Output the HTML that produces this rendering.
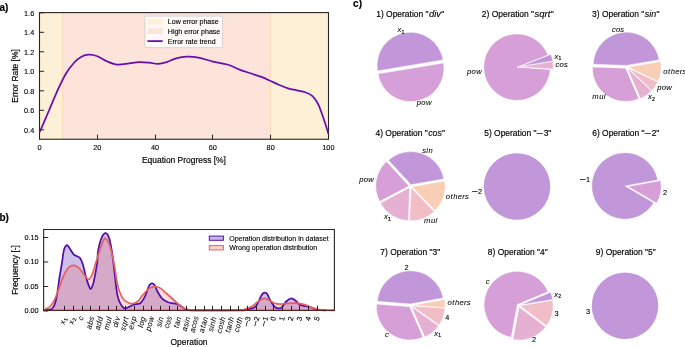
<!DOCTYPE html>
<html><head><meta charset="utf-8"><style>
html,body{margin:0;padding:0;background:#fff;width:685px;height:347px;overflow:hidden;font-family:"Liberation Sans", sans-serif;}
svg{display:block;will-change:transform;}
text{font-family:"Liberation Sans", sans-serif;stroke:#000;stroke-width:0.17px;}
text.sm{stroke-width:0.12px;}
text.it{stroke-width:0.06px;}
text.it2{stroke-width:0.12px;}
</style></head><body>
<svg width="685" height="347" viewBox="0 0 685 347"><rect x="39.5" y="12.6" width="23.20" height="126.65" fill="#fef0d6"/>
<rect x="62.70" y="12.6" width="207.94" height="126.65" fill="#fce4db"/>
<rect x="270.64" y="12.6" width="57.86" height="126.65" fill="#fef0d6"/>
<line x1="62.70" y1="12.6" x2="62.70" y2="139.25" stroke="#f9d9b0" stroke-width="0.9"/>
<line x1="270.64" y1="12.6" x2="270.64" y2="139.25" stroke="#f9d9b0" stroke-width="0.9"/>
<rect x="39.5" y="12.6" width="289.00" height="126.65" fill="none" stroke="#262626" stroke-width="1.1"/>
<path d="M39.60,132.25 C41.04,128.92 45.38,119.00 48.26,112.26 C51.15,105.52 54.04,98.12 56.93,91.78 C59.82,85.45 62.70,79.11 65.59,74.24 C68.48,69.36 71.61,65.46 74.26,62.53 C76.90,59.61 79.07,57.99 81.48,56.69 C83.88,55.39 86.05,54.82 88.70,54.74 C91.34,54.65 94.23,55.06 97.36,56.20 C100.49,57.34 104.10,60.15 107.47,61.56 C110.84,62.97 113.97,64.39 117.58,64.68 C121.19,64.97 125.52,63.74 129.13,63.31 C132.74,62.89 135.87,62.24 139.24,62.14 C142.61,62.05 146.22,62.45 149.34,62.73 C152.47,63.01 155.12,63.92 158.01,63.80 C160.90,63.69 163.78,62.91 166.67,62.05 C169.56,61.19 171.97,59.53 175.34,58.64 C178.71,57.74 183.04,56.85 186.89,56.69 C190.74,56.52 194.11,56.85 198.44,57.66 C202.77,58.47 208.07,60.42 212.88,61.56 C217.69,62.70 222.99,63.19 227.32,64.48 C231.65,65.78 235.02,67.90 238.87,69.36 C242.72,70.82 246.57,71.96 250.42,73.26 C254.27,74.56 258.61,75.86 261.98,77.16 C265.35,78.46 267.75,79.76 270.64,81.06 C273.53,82.36 276.42,83.74 279.30,84.96 C282.19,86.18 285.08,87.48 287.97,88.37 C290.86,89.27 293.74,89.67 296.63,90.32 C299.52,90.97 302.65,91.30 305.30,92.27 C307.94,93.25 310.35,94.14 312.52,96.17 C314.68,98.20 316.37,100.48 318.29,104.46 C320.22,108.44 322.38,115.19 324.07,120.06 C325.75,124.94 327.68,131.44 328.40,133.71" fill="none" stroke="#6a0dad" stroke-width="1.75" stroke-linejoin="round"/>
<line x1="39.5" y1="129.81" x2="44.1" y2="129.81" stroke="#222" stroke-width="1"/>
<text x="24.05" y="132.73" font-size="7.3" fill="#000" class="sm">0.4</text>
<line x1="39.5" y1="110.31" x2="44.1" y2="110.31" stroke="#222" stroke-width="1"/>
<text x="24.05" y="113.23" font-size="7.3" fill="#000" class="sm">0.6</text>
<line x1="39.5" y1="90.81" x2="44.1" y2="90.81" stroke="#222" stroke-width="1"/>
<text x="24.05" y="93.73" font-size="7.3" fill="#000" class="sm">0.8</text>
<line x1="39.5" y1="71.31" x2="44.1" y2="71.31" stroke="#222" stroke-width="1"/>
<text x="24.05" y="74.23" font-size="7.3" fill="#000" class="sm">1.0</text>
<line x1="39.5" y1="51.81" x2="44.1" y2="51.81" stroke="#222" stroke-width="1"/>
<text x="24.05" y="54.73" font-size="7.3" fill="#000" class="sm">1.2</text>
<line x1="39.5" y1="32.31" x2="44.1" y2="32.31" stroke="#222" stroke-width="1"/>
<text x="24.05" y="35.23" font-size="7.3" fill="#000" class="sm">1.4</text>
<line x1="39.5" y1="12.81" x2="44.1" y2="12.81" stroke="#222" stroke-width="1"/>
<text x="24.05" y="15.73" font-size="7.3" fill="#000" class="sm">1.6</text>
<line x1="39.50" y1="139.25" x2="39.50" y2="134.65" stroke="#222" stroke-width="1"/>
<text x="37.57" y="149.60" font-size="7.3" fill="#000" class="sm">0</text>
<line x1="97.50" y1="139.25" x2="97.50" y2="134.65" stroke="#222" stroke-width="1"/>
<text x="93.30" y="149.60" font-size="7.3" fill="#000" class="sm">20</text>
<line x1="155.50" y1="139.25" x2="155.50" y2="134.65" stroke="#222" stroke-width="1"/>
<text x="151.06" y="149.60" font-size="7.3" fill="#000" class="sm">40</text>
<line x1="212.50" y1="139.25" x2="212.50" y2="134.65" stroke="#222" stroke-width="1"/>
<text x="208.82" y="149.60" font-size="7.3" fill="#000" class="sm">60</text>
<line x1="270.50" y1="139.25" x2="270.50" y2="134.65" stroke="#222" stroke-width="1"/>
<text x="266.58" y="149.60" font-size="7.3" fill="#000" class="sm">80</text>
<line x1="328.50" y1="139.25" x2="328.50" y2="134.65" stroke="#222" stroke-width="1"/>
<text x="322.31" y="149.60" font-size="7.3" fill="#000" class="sm">100</text>
<text x="141.96" y="162.90" font-size="8.45" fill="#000">Equation Progress [%]</text>
<text x="-26.77" y="0.00" font-size="8.45" fill="#000" transform="translate(18.3,75.92) rotate(-90)">Error Rate [%]</text>
<rect x="144.9" y="16.1" width="77.7" height="31.6" rx="2" ry="2" fill="#ffffff" fill-opacity="0.8" stroke="#cccccc" stroke-width="0.8"/>
<rect x="147.4" y="18.8" width="15.3" height="5.8" fill="#fef0d6"/>
<rect x="147.4" y="28.3" width="15.3" height="5.8" fill="#fce4db"/>
<line x1="147.4" y1="41.1" x2="162.7" y2="41.1" stroke="#6a0dad" stroke-width="1.75"/>
<text x="167.80" y="24.20" font-size="7.05" fill="#000" class="sm">Low error phase</text>
<text x="167.80" y="34.00" font-size="7.05" fill="#000" class="sm">High error phase</text>
<text x="167.80" y="43.60" font-size="7.05" fill="#000" class="sm">Error rate trend</text>
<text x="-0.50" y="10.60" font-size="10" font-weight="bold" fill="#000">a)</text>
<path d="M43.50,310.00 C44.35,309.97 47.15,310.05 48.60,309.80 C50.05,309.55 51.12,309.60 52.20,308.50 C53.28,307.40 54.25,305.78 55.10,303.20 C55.95,300.62 56.57,297.28 57.30,293.00 C58.03,288.72 58.77,282.25 59.50,277.50 C60.23,272.75 60.97,269.03 61.70,264.50 C62.43,259.97 63.05,253.53 63.90,250.30 C64.75,247.07 65.83,245.42 66.80,245.10 C67.77,244.78 68.60,246.88 69.70,248.40 C70.80,249.92 72.18,252.88 73.40,254.20 C74.62,255.52 75.87,255.63 77.00,256.30 C78.13,256.97 79.22,256.82 80.20,258.20 C81.18,259.58 81.97,261.55 82.90,264.60 C83.83,267.65 84.83,273.03 85.80,276.50 C86.77,279.97 87.90,283.32 88.70,285.40 C89.50,287.48 89.87,289.23 90.60,289.00 C91.33,288.77 92.32,286.53 93.10,284.00 C93.88,281.47 94.62,277.38 95.30,273.80 C95.98,270.22 96.72,266.38 97.20,262.50 C97.68,258.62 97.42,254.72 98.20,250.50 C98.98,246.28 100.63,240.10 101.90,237.20 C103.17,234.30 104.58,232.92 105.80,233.10 C107.02,233.28 108.15,235.02 109.20,238.30 C110.25,241.58 111.25,247.47 112.10,252.80 C112.95,258.13 113.45,263.40 114.30,270.30 C115.15,277.20 116.23,288.75 117.20,294.20 C118.17,299.65 119.13,300.82 120.10,303.00 C121.07,305.18 122.15,306.40 123.00,307.30 C123.85,308.20 124.10,308.52 125.20,308.40 C126.30,308.28 128.13,307.25 129.60,306.60 C131.07,305.95 132.23,305.07 134.00,304.50 C135.77,303.93 138.43,304.43 140.20,303.20 C141.97,301.97 143.38,299.33 144.60,297.10 C145.82,294.87 146.65,291.87 147.50,289.80 C148.35,287.73 148.92,285.78 149.70,284.70 C150.48,283.62 151.35,283.18 152.20,283.30 C153.05,283.42 153.88,283.95 154.80,285.40 C155.72,286.85 156.48,289.80 157.70,292.00 C158.92,294.20 160.38,296.90 162.10,298.60 C163.82,300.30 166.05,301.42 168.00,302.20 C169.95,302.98 172.10,302.93 173.80,303.30 C175.50,303.67 176.73,303.73 178.20,304.40 C179.67,305.07 181.27,306.45 182.60,307.30 C183.93,308.15 184.75,309.00 186.20,309.50 C187.65,310.00 182.33,310.15 191.30,310.30 C200.27,310.45 231.25,310.48 240.00,310.40 C248.75,310.32 242.18,310.05 243.80,309.80 C245.42,309.55 247.75,309.43 249.70,308.90 C251.65,308.37 253.80,308.32 255.50,306.60 C257.20,304.88 258.80,300.63 259.90,298.60 C261.00,296.57 261.30,295.40 262.10,294.40 C262.90,293.40 263.85,292.68 264.70,292.60 C265.55,292.52 266.30,292.67 267.20,293.90 C268.10,295.13 268.88,297.88 270.10,300.00 C271.32,302.12 273.03,305.20 274.50,306.60 C275.97,308.00 277.68,308.28 278.90,308.40 C280.12,308.52 280.58,308.45 281.80,307.30 C283.02,306.15 284.62,302.98 286.20,301.50 C287.78,300.02 289.72,298.52 291.30,298.40 C292.88,298.28 294.37,299.80 295.70,300.80 C297.03,301.80 297.97,303.55 299.30,304.40 C300.63,305.25 302.23,305.53 303.70,305.90 C305.17,306.27 306.63,306.23 308.10,306.60 C309.57,306.97 311.05,307.62 312.50,308.10 C313.95,308.58 315.35,309.15 316.80,309.50 C318.25,309.85 319.67,310.05 321.20,310.20 C322.73,310.35 325.20,310.37 326.00,310.40 L326.00,310.4 L43.50,310.4 Z" fill="rgb(207,191,230)" stroke="none"/>
<path d="M43.50,310.20 C43.98,309.97 45.18,309.53 46.40,308.80 C47.62,308.07 49.35,307.50 50.80,305.80 C52.25,304.10 53.65,301.75 55.10,298.60 C56.55,295.45 58.03,290.80 59.50,286.90 C60.97,283.00 62.43,278.37 63.90,275.20 C65.37,272.03 66.72,269.53 68.30,267.90 C69.88,266.27 71.70,265.45 73.40,265.40 C75.10,265.35 76.92,266.33 78.50,267.60 C80.08,268.87 81.25,271.05 82.90,273.00 C84.55,274.95 86.82,279.17 88.40,279.30 C89.98,279.43 91.02,277.02 92.40,273.80 C93.78,270.58 95.12,264.93 96.70,260.00 C98.28,255.07 100.43,247.77 101.90,244.20 C103.37,240.63 104.05,237.90 105.50,238.60 C106.95,239.30 109.02,243.35 110.60,248.40 C112.18,253.45 114.02,263.70 115.00,268.90 C115.98,274.10 115.77,275.87 116.50,279.60 C117.23,283.33 118.18,287.93 119.40,291.30 C120.62,294.67 122.10,297.82 123.80,299.80 C125.50,301.78 127.90,302.63 129.60,303.20 C131.30,303.77 132.53,303.60 134.00,303.20 C135.47,302.80 137.12,301.93 138.40,300.80 C139.68,299.67 140.18,298.23 141.70,296.40 C143.22,294.57 145.87,291.32 147.50,289.80 C149.13,288.28 150.17,287.82 151.50,287.30 C152.83,286.78 153.97,286.52 155.50,286.70 C157.03,286.88 158.87,287.27 160.70,288.40 C162.53,289.53 164.32,291.57 166.50,293.50 C168.68,295.43 171.62,298.07 173.80,300.00 C175.98,301.93 177.65,303.63 179.60,305.10 C181.55,306.57 183.55,307.98 185.50,308.80 C187.45,309.62 189.60,309.75 191.30,310.00 C193.00,310.25 187.92,310.27 195.70,310.30 C203.48,310.33 229.73,310.40 238.00,310.20 C246.27,310.00 242.87,309.82 245.30,309.10 C247.73,308.38 250.42,307.22 252.60,305.90 C254.78,304.58 256.45,302.47 258.40,301.20 C260.35,299.93 262.58,298.50 264.30,298.30 C266.02,298.10 267.00,299.18 268.70,300.00 C270.40,300.82 272.57,302.52 274.50,303.20 C276.43,303.88 278.12,304.07 280.30,304.10 C282.48,304.13 284.92,303.55 287.60,303.40 C290.28,303.25 293.72,303.03 296.40,303.20 C299.08,303.37 301.52,303.83 303.70,304.40 C305.88,304.97 307.55,305.87 309.50,306.60 C311.45,307.33 313.20,308.23 315.40,308.80 C317.60,309.37 320.03,309.75 322.70,310.00 C325.37,310.25 329.45,310.23 331.40,310.30 C333.35,310.37 333.90,310.38 334.40,310.40 L334.40,310.4 L43.50,310.4 Z" fill="rgb(232,96,96)" fill-opacity="0.22" stroke="none"/>
<path d="M43.50,310.00 C44.35,309.97 47.15,310.05 48.60,309.80 C50.05,309.55 51.12,309.60 52.20,308.50 C53.28,307.40 54.25,305.78 55.10,303.20 C55.95,300.62 56.57,297.28 57.30,293.00 C58.03,288.72 58.77,282.25 59.50,277.50 C60.23,272.75 60.97,269.03 61.70,264.50 C62.43,259.97 63.05,253.53 63.90,250.30 C64.75,247.07 65.83,245.42 66.80,245.10 C67.77,244.78 68.60,246.88 69.70,248.40 C70.80,249.92 72.18,252.88 73.40,254.20 C74.62,255.52 75.87,255.63 77.00,256.30 C78.13,256.97 79.22,256.82 80.20,258.20 C81.18,259.58 81.97,261.55 82.90,264.60 C83.83,267.65 84.83,273.03 85.80,276.50 C86.77,279.97 87.90,283.32 88.70,285.40 C89.50,287.48 89.87,289.23 90.60,289.00 C91.33,288.77 92.32,286.53 93.10,284.00 C93.88,281.47 94.62,277.38 95.30,273.80 C95.98,270.22 96.72,266.38 97.20,262.50 C97.68,258.62 97.42,254.72 98.20,250.50 C98.98,246.28 100.63,240.10 101.90,237.20 C103.17,234.30 104.58,232.92 105.80,233.10 C107.02,233.28 108.15,235.02 109.20,238.30 C110.25,241.58 111.25,247.47 112.10,252.80 C112.95,258.13 113.45,263.40 114.30,270.30 C115.15,277.20 116.23,288.75 117.20,294.20 C118.17,299.65 119.13,300.82 120.10,303.00 C121.07,305.18 122.15,306.40 123.00,307.30 C123.85,308.20 124.10,308.52 125.20,308.40 C126.30,308.28 128.13,307.25 129.60,306.60 C131.07,305.95 132.23,305.07 134.00,304.50 C135.77,303.93 138.43,304.43 140.20,303.20 C141.97,301.97 143.38,299.33 144.60,297.10 C145.82,294.87 146.65,291.87 147.50,289.80 C148.35,287.73 148.92,285.78 149.70,284.70 C150.48,283.62 151.35,283.18 152.20,283.30 C153.05,283.42 153.88,283.95 154.80,285.40 C155.72,286.85 156.48,289.80 157.70,292.00 C158.92,294.20 160.38,296.90 162.10,298.60 C163.82,300.30 166.05,301.42 168.00,302.20 C169.95,302.98 172.10,302.93 173.80,303.30 C175.50,303.67 176.73,303.73 178.20,304.40 C179.67,305.07 181.27,306.45 182.60,307.30 C183.93,308.15 184.75,309.00 186.20,309.50 C187.65,310.00 182.33,310.15 191.30,310.30 C200.27,310.45 231.25,310.48 240.00,310.40 C248.75,310.32 242.18,310.05 243.80,309.80 C245.42,309.55 247.75,309.43 249.70,308.90 C251.65,308.37 253.80,308.32 255.50,306.60 C257.20,304.88 258.80,300.63 259.90,298.60 C261.00,296.57 261.30,295.40 262.10,294.40 C262.90,293.40 263.85,292.68 264.70,292.60 C265.55,292.52 266.30,292.67 267.20,293.90 C268.10,295.13 268.88,297.88 270.10,300.00 C271.32,302.12 273.03,305.20 274.50,306.60 C275.97,308.00 277.68,308.28 278.90,308.40 C280.12,308.52 280.58,308.45 281.80,307.30 C283.02,306.15 284.62,302.98 286.20,301.50 C287.78,300.02 289.72,298.52 291.30,298.40 C292.88,298.28 294.37,299.80 295.70,300.80 C297.03,301.80 297.97,303.55 299.30,304.40 C300.63,305.25 302.23,305.53 303.70,305.90 C305.17,306.27 306.63,306.23 308.10,306.60 C309.57,306.97 311.05,307.62 312.50,308.10 C313.95,308.58 315.35,309.15 316.80,309.50 C318.25,309.85 319.67,310.05 321.20,310.20 C322.73,310.35 325.20,310.37 326.00,310.40" fill="none" stroke="#520fab" stroke-width="1.75"/>
<path d="M43.50,310.20 C43.98,309.97 45.18,309.53 46.40,308.80 C47.62,308.07 49.35,307.50 50.80,305.80 C52.25,304.10 53.65,301.75 55.10,298.60 C56.55,295.45 58.03,290.80 59.50,286.90 C60.97,283.00 62.43,278.37 63.90,275.20 C65.37,272.03 66.72,269.53 68.30,267.90 C69.88,266.27 71.70,265.45 73.40,265.40 C75.10,265.35 76.92,266.33 78.50,267.60 C80.08,268.87 81.25,271.05 82.90,273.00 C84.55,274.95 86.82,279.17 88.40,279.30 C89.98,279.43 91.02,277.02 92.40,273.80 C93.78,270.58 95.12,264.93 96.70,260.00 C98.28,255.07 100.43,247.77 101.90,244.20 C103.37,240.63 104.05,237.90 105.50,238.60 C106.95,239.30 109.02,243.35 110.60,248.40 C112.18,253.45 114.02,263.70 115.00,268.90 C115.98,274.10 115.77,275.87 116.50,279.60 C117.23,283.33 118.18,287.93 119.40,291.30 C120.62,294.67 122.10,297.82 123.80,299.80 C125.50,301.78 127.90,302.63 129.60,303.20 C131.30,303.77 132.53,303.60 134.00,303.20 C135.47,302.80 137.12,301.93 138.40,300.80 C139.68,299.67 140.18,298.23 141.70,296.40 C143.22,294.57 145.87,291.32 147.50,289.80 C149.13,288.28 150.17,287.82 151.50,287.30 C152.83,286.78 153.97,286.52 155.50,286.70 C157.03,286.88 158.87,287.27 160.70,288.40 C162.53,289.53 164.32,291.57 166.50,293.50 C168.68,295.43 171.62,298.07 173.80,300.00 C175.98,301.93 177.65,303.63 179.60,305.10 C181.55,306.57 183.55,307.98 185.50,308.80 C187.45,309.62 189.60,309.75 191.30,310.00 C193.00,310.25 187.92,310.27 195.70,310.30 C203.48,310.33 229.73,310.40 238.00,310.20 C246.27,310.00 242.87,309.82 245.30,309.10 C247.73,308.38 250.42,307.22 252.60,305.90 C254.78,304.58 256.45,302.47 258.40,301.20 C260.35,299.93 262.58,298.50 264.30,298.30 C266.02,298.10 267.00,299.18 268.70,300.00 C270.40,300.82 272.57,302.52 274.50,303.20 C276.43,303.88 278.12,304.07 280.30,304.10 C282.48,304.13 284.92,303.55 287.60,303.40 C290.28,303.25 293.72,303.03 296.40,303.20 C299.08,303.37 301.52,303.83 303.70,304.40 C305.88,304.97 307.55,305.87 309.50,306.60 C311.45,307.33 313.20,308.23 315.40,308.80 C317.60,309.37 320.03,309.75 322.70,310.00 C325.37,310.25 329.45,310.23 331.40,310.30 C333.35,310.37 333.90,310.38 334.40,310.40" fill="none" stroke="#e8605c" stroke-width="1.7"/>
<path d="M43.65,310.4 L43.65,229.43 L334.4,229.43 L334.4,310.4" fill="none" stroke="#262626" stroke-width="1.1"/>
<line x1="43.1" y1="310.4" x2="334.95" y2="310.4" stroke="#5e1f1f" stroke-width="1.1"/>
<line x1="43.65" y1="311.00" x2="48.25" y2="311.00" stroke="#222" stroke-width="1"/>
<text x="24.44" y="313.41" font-size="7.3" fill="#000" class="sm">0.00</text>
<line x1="43.65" y1="286.50" x2="48.25" y2="286.50" stroke="#222" stroke-width="1"/>
<text x="24.44" y="288.91" font-size="7.3" fill="#000" class="sm">0.05</text>
<line x1="43.65" y1="262.00" x2="48.25" y2="262.00" stroke="#222" stroke-width="1"/>
<text x="24.44" y="264.41" font-size="7.3" fill="#000" class="sm">0.10</text>
<line x1="43.65" y1="237.50" x2="48.25" y2="237.50" stroke="#222" stroke-width="1"/>
<text x="24.44" y="239.91" font-size="7.3" fill="#000" class="sm">0.15</text>
<line x1="64.50" y1="310.4" x2="64.50" y2="305.79999999999995" stroke="#222" stroke-width="1"/>
<g transform="translate(66.26,318.04) rotate(-75)"><text x="-6.92" y="0.00" font-size="7.67" font-style="italic" fill="#000" class="it">x</text><text x="-2.84" y="1.46" font-size="5.11" fill="#000">1</text></g>
<line x1="73.50" y1="310.4" x2="73.50" y2="305.79999999999995" stroke="#222" stroke-width="1"/>
<g transform="translate(74.98,318.04) rotate(-75)"><text x="-6.92" y="0.00" font-size="7.67" font-style="italic" fill="#000" class="it">x</text><text x="-2.84" y="1.46" font-size="5.11" fill="#000">2</text></g>
<line x1="82.50" y1="310.4" x2="82.50" y2="305.79999999999995" stroke="#222" stroke-width="1"/>
<g transform="translate(83.79,317.04) rotate(-75)"><text x="-3.92" y="0.00" font-size="7.67" font-style="italic" fill="#000" class="it">c</text></g>
<line x1="90.50" y1="310.4" x2="90.50" y2="305.79999999999995" stroke="#222" stroke-width="1"/>
<g transform="translate(94.32,317.40) rotate(-75)"><text x="-12.81 -8.25 -3.82" y="0.00" font-size="7.67" font-style="italic" fill="#000" class="it">abs</text></g>
<line x1="99.50" y1="310.4" x2="99.50" y2="305.79999999999995" stroke="#222" stroke-width="1"/>
<g transform="translate(103.14,317.40) rotate(-75)"><text x="-13.64 -9.08 -4.45" y="0.00" font-size="7.67" font-style="italic" fill="#000" class="it">add</text></g>
<line x1="108.50" y1="310.4" x2="108.50" y2="305.79999999999995" stroke="#222" stroke-width="1"/>
<g transform="translate(111.86,317.40) rotate(-75)"><text x="-13.41 -6.47 -1.87" y="0.00" font-size="7.67" font-style="italic" fill="#000" class="it">mul</text></g>
<line x1="116.50" y1="310.4" x2="116.50" y2="305.79999999999995" stroke="#222" stroke-width="1"/>
<g transform="translate(120.21,317.40) rotate(-75)"><text x="-10.80 -6.19 -4.08" y="0.00" font-size="7.67" font-style="italic" fill="#000" class="it">div</text></g>
<line x1="125.50" y1="310.4" x2="125.50" y2="305.79999999999995" stroke="#222" stroke-width="1"/>
<g transform="translate(128.62,317.40) rotate(-75)"><text x="-14.32 -10.31 -5.64 -2.50" y="0.00" font-size="7.67" font-style="italic" fill="#000" class="it">sqrt</text></g>
<line x1="134.50" y1="310.4" x2="134.50" y2="305.79999999999995" stroke="#222" stroke-width="1"/>
<g transform="translate(136.55,317.04) rotate(-75)"><text x="-13.33 -8.71 -4.45" y="0.00" font-size="7.67" font-style="italic" fill="#000" class="it">exp</text></g>
<line x1="143.50" y1="310.4" x2="143.50" y2="305.79999999999995" stroke="#222" stroke-width="1"/>
<g transform="translate(145.64,317.40) rotate(-75)"><text x="-10.97 -9.00 -4.45" y="0.00" font-size="7.67" font-style="italic" fill="#000" class="it">log</text></g>
<line x1="151.50" y1="310.4" x2="151.50" y2="305.79999999999995" stroke="#222" stroke-width="1"/>
<g transform="translate(154.19,317.04) rotate(-75)"><text x="-14.89 -10.34 -5.75" y="0.00" font-size="7.67" font-style="italic" fill="#000" class="it">pow</text></g>
<line x1="160.50" y1="310.4" x2="160.50" y2="305.79999999999995" stroke="#222" stroke-width="1"/>
<g transform="translate(163.72,317.40) rotate(-75)"><text x="-10.48 -6.49 -4.45" y="0.00" font-size="7.67" font-style="italic" fill="#000" class="it">sin</text></g>
<line x1="169.50" y1="310.4" x2="169.50" y2="305.79999999999995" stroke="#222" stroke-width="1"/>
<g transform="translate(172.00,317.04) rotate(-75)"><text x="-12.19 -8.17 -3.82" y="0.00" font-size="7.67" font-style="italic" fill="#000" class="it">cos</text></g>
<line x1="177.50" y1="310.4" x2="177.50" y2="305.79999999999995" stroke="#222" stroke-width="1"/>
<g transform="translate(181.34,317.40) rotate(-75)"><text x="-11.60 -9.00 -4.45" y="0.00" font-size="7.67" font-style="italic" fill="#000" class="it">tan</text></g>
<line x1="186.50" y1="310.4" x2="186.50" y2="305.79999999999995" stroke="#222" stroke-width="1"/>
<g transform="translate(190.44,317.40) rotate(-75)"><text x="-14.83 -10.48 -6.49 -4.45" y="0.00" font-size="7.67" font-style="italic" fill="#000" class="it">asin</text></g>
<line x1="195.50" y1="310.4" x2="195.50" y2="305.79999999999995" stroke="#222" stroke-width="1"/>
<g transform="translate(198.72,317.04) rotate(-75)"><text x="-16.65 -12.19 -8.17 -3.82" y="0.00" font-size="7.67" font-style="italic" fill="#000" class="it">acos</text></g>
<line x1="204.50" y1="310.4" x2="204.50" y2="305.79999999999995" stroke="#222" stroke-width="1"/>
<g transform="translate(208.06,317.40) rotate(-75)"><text x="-16.33 -11.60 -9.00 -4.45" y="0.00" font-size="7.67" font-style="italic" fill="#000" class="it">atan</text></g>
<line x1="212.50" y1="310.4" x2="212.50" y2="305.79999999999995" stroke="#222" stroke-width="1"/>
<g transform="translate(216.60,317.40) rotate(-75)"><text x="-15.10 -11.12 -9.07 -4.45" y="0.00" font-size="7.67" font-style="italic" fill="#000" class="it">sinh</text></g>
<line x1="221.50" y1="310.4" x2="221.50" y2="305.79999999999995" stroke="#222" stroke-width="1"/>
<g transform="translate(225.55,317.40) rotate(-75)"><text x="-16.82 -12.80 -8.45 -4.45" y="0.00" font-size="7.67" font-style="italic" fill="#000" class="it">cosh</text></g>
<line x1="230.50" y1="310.4" x2="230.50" y2="305.79999999999995" stroke="#222" stroke-width="1"/>
<g transform="translate(234.22,317.40) rotate(-75)"><text x="-16.23 -13.63 -9.07 -4.45" y="0.00" font-size="7.67" font-style="italic" fill="#000" class="it">tanh</text></g>
<line x1="238.50" y1="310.4" x2="238.50" y2="305.79999999999995" stroke="#222" stroke-width="1"/>
<g transform="translate(242.86,317.40) rotate(-75)"><text x="-15.88 -11.86 -7.12 -4.45" y="0.00" font-size="7.67" font-style="italic" fill="#000" class="it">coth</text></g>
<line x1="247.50" y1="310.4" x2="247.50" y2="305.79999999999995" stroke="#222" stroke-width="1"/>
<g transform="translate(250.82,317.40) rotate(-75)"><text x="-10.18" y="0.00" font-size="7.3" fill="#000" textLength="6.12" lengthAdjust="spacingAndGlyphs">−</text><text x="-4.06" y="0.00" font-size="7.3" fill="#000" class="sm">3</text></g>
<line x1="256.50" y1="310.4" x2="256.50" y2="305.79999999999995" stroke="#222" stroke-width="1"/>
<g transform="translate(259.53,317.40) rotate(-75)"><text x="-10.18" y="0.00" font-size="7.3" fill="#000" textLength="6.12" lengthAdjust="spacingAndGlyphs">−</text><text x="-4.06" y="0.00" font-size="7.3" fill="#000" class="sm">2</text></g>
<line x1="265.50" y1="310.4" x2="265.50" y2="305.79999999999995" stroke="#222" stroke-width="1"/>
<g transform="translate(268.25,317.40) rotate(-75)"><text x="-10.18" y="0.00" font-size="7.3" fill="#000" textLength="6.12" lengthAdjust="spacingAndGlyphs">−</text><text x="-4.06" y="0.00" font-size="7.3" fill="#000" class="sm">1</text></g>
<line x1="273.50" y1="310.4" x2="273.50" y2="305.79999999999995" stroke="#222" stroke-width="1"/>
<g transform="translate(276.17,317.40) rotate(-75)"><text x="-4.06" y="0.00" font-size="7.3" fill="#000" class="sm">0</text></g>
<line x1="282.50" y1="310.4" x2="282.50" y2="305.79999999999995" stroke="#222" stroke-width="1"/>
<g transform="translate(284.88,317.40) rotate(-75)"><text x="-4.06" y="0.00" font-size="7.3" fill="#000" class="sm">1</text></g>
<line x1="291.50" y1="310.4" x2="291.50" y2="305.79999999999995" stroke="#222" stroke-width="1"/>
<g transform="translate(293.60,317.40) rotate(-75)"><text x="-4.06" y="0.00" font-size="7.3" fill="#000" class="sm">2</text></g>
<line x1="299.50" y1="310.4" x2="299.50" y2="305.79999999999995" stroke="#222" stroke-width="1"/>
<g transform="translate(302.31,317.40) rotate(-75)"><text x="-4.06" y="0.00" font-size="7.3" fill="#000" class="sm">3</text></g>
<line x1="308.50" y1="310.4" x2="308.50" y2="305.79999999999995" stroke="#222" stroke-width="1"/>
<g transform="translate(311.03,317.40) rotate(-75)"><text x="-4.06" y="0.00" font-size="7.3" fill="#000" class="sm">4</text></g>
<line x1="317.50" y1="310.4" x2="317.50" y2="305.79999999999995" stroke="#222" stroke-width="1"/>
<g transform="translate(319.74,317.40) rotate(-75)"><text x="-4.06" y="0.00" font-size="7.3" fill="#000" class="sm">5</text></g>
<text x="170.47" y="345.10" font-size="8.45" fill="#000">Operation</text>
<text x="-24.89" y="0.00" font-size="8.45" fill="#000" transform="translate(18.3,269.91) rotate(-90)">Frequency [-]</text>
<rect x="209.3" y="236.1" width="14.1" height="4.2" fill="#c9b6e6" stroke="#520fab" stroke-width="1"/>
<rect x="209.3" y="245.6" width="14.1" height="4.3" fill="#f8d2d4" stroke="#e8605c" stroke-width="1"/>
<text x="229.20" y="240.70" font-size="7.05" fill="#000" class="sm">Operation distribution in dataset</text>
<text x="229.20" y="250.30" font-size="7.05" fill="#000" class="sm">Wrong operation distribution</text>
<text x="-0.50" y="220.70" font-size="10" font-weight="bold" fill="#000">b)</text>
<text x="353.10" y="7.20" font-size="10" font-weight="bold" fill="#000">c)</text>
<path d="M410.25,65.42 L443.05,59.93 A33.25,33.25 0 0 0 377.46,70.91 Z" fill="#c197da" stroke="#fff" stroke-width="0.5" stroke-linejoin="round"/>
<path d="M410.75,68.38 L377.95,73.87 A33.25,33.25 0 0 0 443.54,62.89 Z" fill="#d69fd7" stroke="#fff" stroke-width="0.5" stroke-linejoin="round"/>
<text x="397.47" y="32.25" font-size="7.67" font-style="italic" fill="#000" class="it">x</text><text x="401.55" y="33.71" font-size="5.11" fill="#000">1</text>
<text x="416.79 421.34 425.93" y="105.24" font-size="7.67" font-style="italic" fill="#000" class="it">pow</text>
<text x="376.28" y="17.00" font-size="8.45" fill="#000">1) Operation "</text>
<text x="428.90" y="17.00" font-size="8.62" font-style="italic" fill="#000" class="it2" textLength="12.12" lengthAdjust="spacingAndGlyphs">div</text>
<text x="441.32" y="17.00" font-size="8.45" fill="#000">"</text>
<path d="M519.95,66.50 L552.76,61.13 A33.25,33.25 0 0 0 550.90,54.37 Z" fill="#c197da" stroke="#fff" stroke-width="0.5" stroke-linejoin="round"/>
<path d="M517.02,67.13 L547.97,54.99 A33.25,33.25 0 1 0 550.19,69.45 Z" fill="#d69fd7" stroke="#fff" stroke-width="0.5" stroke-linejoin="round"/>
<path d="M520.00,66.83 L553.17,69.15 A33.25,33.25 0 0 0 552.81,61.46 Z" fill="#e6b0d3" stroke="#fff" stroke-width="0.5" stroke-linejoin="round"/>
<text x="554.42" y="58.95" font-size="7.67" font-style="italic" fill="#000" class="it">x</text><text x="558.50" y="60.41" font-size="5.11" fill="#000">1</text>
<text x="467.04 471.59 476.17" y="74.34" font-size="7.67" font-style="italic" fill="#000" class="it">pow</text>
<text x="555.55 559.58 563.93" y="67.04" font-size="7.67" font-style="italic" fill="#000" class="it">cos</text>
<text x="481.86" y="17.00" font-size="8.45" fill="#000">2) Operation "</text>
<text x="534.48" y="17.00" font-size="8.62" font-style="italic" fill="#000" class="it2" textLength="15.95" lengthAdjust="spacingAndGlyphs">sqrt</text>
<text x="550.74" y="17.00" font-size="8.45" fill="#000">"</text>
<path d="M626.40,65.40 L659.20,59.92 A33.25,33.25 0 0 0 593.17,64.24 Z" fill="#c197da" stroke="#fff" stroke-width="0.5" stroke-linejoin="round"/>
<path d="M625.65,68.14 L592.42,66.98 A33.25,33.25 0 0 0 638.81,98.68 Z" fill="#d69fd7" stroke="#fff" stroke-width="0.5" stroke-linejoin="round"/>
<path d="M627.36,68.13 L640.51,98.67 A33.25,33.25 0 0 0 651.48,91.02 Z" fill="#e6b0d3" stroke="#fff" stroke-width="0.5" stroke-linejoin="round"/>
<path d="M627.74,67.75 L651.85,90.64 A33.25,33.25 0 0 0 657.75,82.06 Z" fill="#f1bec8" stroke="#fff" stroke-width="0.5" stroke-linejoin="round"/>
<path d="M627.99,67.11 L658.00,81.42 A33.25,33.25 0 0 0 660.78,61.62 Z" fill="#f9ceb6" stroke="#fff" stroke-width="0.5" stroke-linejoin="round"/>
<text x="611.89 615.91 620.26" y="31.83" font-size="7.67" font-style="italic" fill="#000" class="it">cos</text>
<text x="592.22 599.15 603.76" y="99.29" font-size="7.67" font-style="italic" fill="#000" class="it">mul</text>
<text x="647.91" y="99.09" font-size="7.67" font-style="italic" fill="#000" class="it">x</text><text x="651.99" y="100.55" font-size="5.11" fill="#000">2</text>
<text x="657.18 661.73 666.31" y="89.70" font-size="7.67" font-style="italic" fill="#000" class="it">pow</text>
<text x="663.24 667.97 670.65 675.21 679.81 682.57" y="73.90" font-size="7.67" font-style="italic" fill="#000" class="it">others</text>
<text x="592.09" y="17.00" font-size="8.45" fill="#000">3) Operation "</text>
<text x="644.70" y="17.00" font-size="8.62" font-style="italic" fill="#000" class="it2" textLength="11.51" lengthAdjust="spacingAndGlyphs">sin</text>
<text x="656.51" y="17.00" font-size="8.45" fill="#000">"</text>
<path d="M410.98,184.78 L443.73,179.01 A33.25,33.25 0 0 0 388.47,160.30 Z" fill="#c197da" stroke="#fff" stroke-width="0.5" stroke-linejoin="round"/>
<path d="M409.02,185.95 L386.52,161.47 A33.25,33.25 0 0 0 379.66,201.56 Z" fill="#d69fd7" stroke="#fff" stroke-width="0.5" stroke-linejoin="round"/>
<path d="M409.70,187.47 L380.34,203.08 A33.25,33.25 0 0 0 408.37,220.69 Z" fill="#e6b0d3" stroke="#fff" stroke-width="0.5" stroke-linejoin="round"/>
<path d="M411.03,187.60 L409.70,220.82 A33.25,33.25 0 0 0 434.13,211.52 Z" fill="#f1bec8" stroke="#fff" stroke-width="0.5" stroke-linejoin="round"/>
<path d="M411.93,186.66 L435.02,210.58 A33.25,33.25 0 0 0 444.67,180.89 Z" fill="#f9ceb6" stroke="#fff" stroke-width="0.5" stroke-linejoin="round"/>
<text x="422.35 426.33 428.38" y="153.00" font-size="7.67" font-style="italic" fill="#000" class="it">sin</text>
<text x="359.14 363.69 368.28" y="181.81" font-size="7.67" font-style="italic" fill="#000" class="it">pow</text>
<text x="383.89" y="219.37" font-size="7.67" font-style="italic" fill="#000" class="it">x</text><text x="387.97" y="220.83" font-size="5.11" fill="#000">1</text>
<text x="424.03 430.96 435.57" y="222.62" font-size="7.67" font-style="italic" fill="#000" class="it">mul</text>
<text x="445.79 450.52 453.20 457.76 462.36 465.12" y="199.48" font-size="7.67" font-style="italic" fill="#000" class="it">others</text>
<text x="375.53" y="136.00" font-size="8.45" fill="#000">4) Operation "</text>
<text x="428.15" y="136.00" font-size="8.62" font-style="italic" fill="#000" class="it2" textLength="13.62" lengthAdjust="spacingAndGlyphs">cos</text>
<text x="442.07" y="136.00" font-size="8.45" fill="#000">"</text>
<circle cx="517.02" cy="186.46" r="33.25" fill="#c197da"/>
<text x="471.88" y="194.47" font-size="7.3" fill="#000" textLength="6.12" lengthAdjust="spacingAndGlyphs">−</text><text x="478.00" y="194.47" font-size="7.3" fill="#000" class="sm">2</text>
<text x="484.25" y="136.00" font-size="8.45" fill="#000">5) Operation "</text>
<text x="536.57" y="136.00" font-size="8.45" fill="#000" textLength="7.08" lengthAdjust="spacingAndGlyphs">−</text><text x="543.65" y="136.00" font-size="8.45" fill="#000">3</text>
<text x="548.35" y="136.00" font-size="8.45" fill="#000">"</text>
<path d="M625.02,185.94 L657.75,180.05 A33.25,33.25 0 1 0 653.73,202.71 Z" fill="#c197da" stroke="#fff" stroke-width="0.5" stroke-linejoin="round"/>
<path d="M627.98,186.46 L656.68,203.24 A33.25,33.25 0 0 0 660.70,180.57 Z" fill="#d69fd7" stroke="#fff" stroke-width="0.5" stroke-linejoin="round"/>
<text x="579.89" y="181.59" font-size="7.3" fill="#000" textLength="6.12" lengthAdjust="spacingAndGlyphs">−</text><text x="586.01" y="181.59" font-size="7.3" fill="#000" class="sm">1</text>
<text x="662.93" y="194.50" font-size="7.3" fill="#000" class="sm">2</text>
<text x="592.25" y="136.00" font-size="8.45" fill="#000">6) Operation "</text>
<text x="644.57" y="136.00" font-size="8.45" fill="#000" textLength="7.08" lengthAdjust="spacingAndGlyphs">−</text><text x="651.65" y="136.00" font-size="8.45" fill="#000">2</text>
<text x="656.35" y="136.00" font-size="8.45" fill="#000">"</text>
<path d="M410.42,304.00 L443.13,298.00 A33.25,33.25 0 0 0 377.28,301.34 Z" fill="#c197da" stroke="#fff" stroke-width="0.5" stroke-linejoin="round"/>
<path d="M409.63,306.72 L376.49,304.06 A33.25,33.25 0 0 0 422.99,337.17 Z" fill="#d69fd7" stroke="#fff" stroke-width="0.5" stroke-linejoin="round"/>
<path d="M411.45,306.66 L424.81,337.11 A33.25,33.25 0 0 0 438.58,325.88 Z" fill="#e6b0d3" stroke="#fff" stroke-width="0.5" stroke-linejoin="round"/>
<path d="M411.91,306.00 L439.05,325.22 A33.25,33.25 0 0 0 445.08,308.32 Z" fill="#f1bec8" stroke="#fff" stroke-width="0.5" stroke-linejoin="round"/>
<path d="M412.00,305.42 L445.17,307.74 A33.25,33.25 0 0 0 444.70,299.41 Z" fill="#f9ceb6" stroke="#fff" stroke-width="0.5" stroke-linejoin="round"/>
<text x="404.57" y="270.39" font-size="7.3" fill="#000" class="sm">2</text>
<text x="385.12" y="337.49" font-size="7.67" font-style="italic" fill="#000" class="it">c</text>
<text x="434.13" y="336.02" font-size="7.67" font-style="italic" fill="#000" class="it">x</text><text x="438.21" y="337.48" font-size="5.11" fill="#000">1</text>
<text x="445.35" y="319.79" font-size="7.3" fill="#000" class="sm">4</text>
<text x="447.54 452.28 454.95 459.51 464.11 466.87" y="305.28" font-size="7.67" font-style="italic" fill="#000" class="it">others</text>
<text x="380.29" y="255.00" font-size="8.45" fill="#000">7) Operation "</text>
<text x="432.61" y="255.00" font-size="8.45" fill="#000">3</text>
<text x="437.31" y="255.00" font-size="8.45" fill="#000">"</text>
<path d="M519.94,305.08 L552.71,299.42 A33.25,33.25 0 0 0 550.64,292.30 Z" fill="#c197da" stroke="#fff" stroke-width="0.5" stroke-linejoin="round"/>
<path d="M517.33,304.56 L548.03,291.78 A33.25,33.25 0 1 0 511.22,337.24 Z" fill="#d69fd7" stroke="#fff" stroke-width="0.5" stroke-linejoin="round"/>
<path d="M519.04,306.90 L512.93,339.58 A33.25,33.25 0 0 0 545.67,326.82 Z" fill="#e6b0d3" stroke="#fff" stroke-width="0.5" stroke-linejoin="round"/>
<path d="M519.96,305.85 L546.58,325.77 A33.25,33.25 0 0 0 552.72,300.19 Z" fill="#f1bec8" stroke="#fff" stroke-width="0.5" stroke-linejoin="round"/>
<text x="554.28" y="297.02" font-size="7.67" font-style="italic" fill="#000" class="it">x</text><text x="558.35" y="298.48" font-size="5.11" fill="#000">2</text>
<text x="485.82" y="284.06" font-size="7.67" font-style="italic" fill="#000" class="it">c</text>
<text x="531.94" y="341.82" font-size="7.3" fill="#000" class="sm">2</text>
<text x="554.48" y="315.98" font-size="7.3" fill="#000" class="sm">3</text>
<text x="487.79" y="255.00" font-size="8.45" fill="#000">8) Operation "</text>
<text x="540.11" y="255.00" font-size="8.45" fill="#000">4</text>
<text x="544.81" y="255.00" font-size="8.45" fill="#000">"</text>
<circle cx="625.02" cy="305.76" r="33.25" fill="#c197da"/>
<text x="586.00" y="313.77" font-size="7.3" fill="#000" class="sm">3</text>
<text x="595.79" y="255.00" font-size="8.45" fill="#000">9) Operation "</text>
<text x="648.11" y="255.00" font-size="8.45" fill="#000">5</text>
<text x="652.81" y="255.00" font-size="8.45" fill="#000">"</text></svg>
</body></html>
